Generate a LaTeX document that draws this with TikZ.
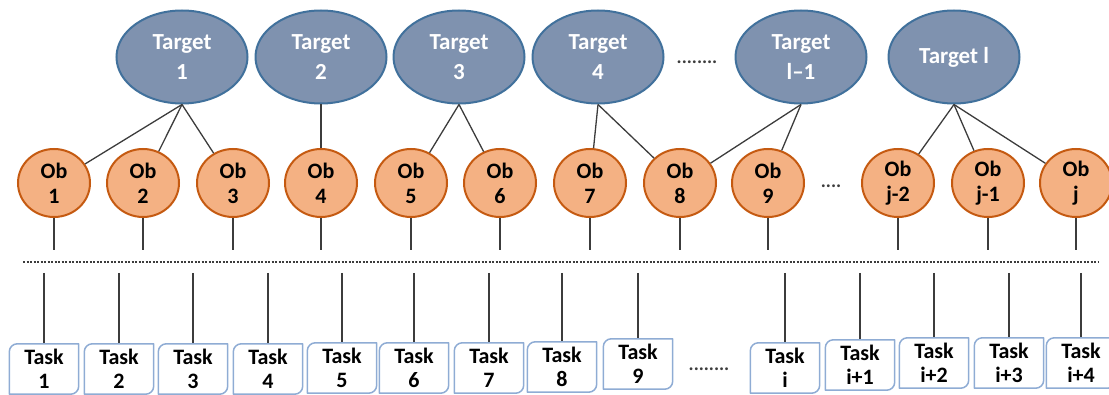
\documentclass[tikz,border=0pt]{standalone}
\usepackage{fontspec}
\setmainfont{Carlito}
\usetikzlibrary{shapes.geometric}

\definecolor{targetfill}{RGB}{127,146,175}
\definecolor{targetline}{RGB}{65,113,156}
\definecolor{obfill}{RGB}{244,177,131}
\definecolor{obline}{RGB}{197,90,17}
\definecolor{taskline}{RGB}{143,172,212}
\definecolor{linkgray}{RGB}{60,60,60}

\begin{document}
\begin{tikzpicture}[
    x=1pt, y=-1pt,
    % styles for the three rows
    target/.style={ellipse, draw=targetline, line width=2pt, fill=targetfill,
        minimum width=131pt, minimum height=93pt, inner sep=0pt, text=white,
        font=\fontsize{23}{30}\selectfont\bfseries, align=center},
    ob/.style={ellipse, draw=obline, line width=2pt, fill=obfill,
        minimum width=72pt, minimum height=68pt, inner sep=0pt,
        font=\fontsize{22}{25}\selectfont\bfseries, align=center},
    taskbox/.style={minimum width=69pt, minimum height=50pt, inner sep=0pt,
        font=\fontsize{22}{24}\selectfont\bfseries, align=center},
    taskframe/.style={draw=taskline, line width=1.5pt, line join=round},
    link/.style={draw=linkgray, line width=1.3pt},
    sepline/.style={draw=linkgray, line width=2.2pt, dash pattern=on 2pt off 1.5pt},
    dots/.style={inner sep=0pt, text=linkgray, font=\fontsize{19}{19}\selectfont\bfseries},
]
    % --- coordinates (pixel units, y downwards) ---
    \def\yTarget{57}    % target row
    \def\yOb{183}       % ob row
    \def\yObEnd{250}    % ob stems end
    \def\ySep{262}      % dotted separator
    \def\yTaskTop{273}  % task stems start
    \def\r{8pt}         % task corner radius

    \useasboundingbox (0,0) rectangle (1109,395);

    % --- 1. Targets ---
    \node[target] (tg1) at (182,\yTarget) {Target\\1};
    \node[target] (tg2) at (321,\yTarget) {Target\\2};
    \node[target] (tg3) at (459,\yTarget) {Target\\3};
    \node[target] (tg4) at (598,\yTarget) {Target\\4};
    \node[dots] (tgdots) at (697,62) {........};
    \node[target] (tgl1) at (801,\yTarget) {Target\\l--1};
    \node[target] (tgl) at (954,\yTarget) {Target l};

    % --- 2. Obs with their stems ---
    \foreach \n/\x/\lab in {1/54/1, 2/143/2, 3/233/3, 4/321/4, 5/411/5, 6/500/6,
        7/590/7, 8/680/8, 9/768/9, 10/898/j-2, 11/988/j-1, 12/1076/j} {
        \node[ob] (ob\n) at (\x,\yOb) {Ob\\\lab};
        \coordinate (obend\n) at (\x,\yObEnd);
        \draw[link] (ob\n) -- (obend\n);
    }
    \node[dots] (obdots) at (831,186) {....};

    % --- 3. Target -> Ob links ---
    \draw[link] (tg1.south) -- (ob1);
    \draw[link] (tg1.south) -- (ob2);
    \draw[link] (tg1.south) -- (ob3);
    \draw[link] (tg2.south) -- (ob4);
    \draw[link] (tg3.south) -- (ob5);
    \draw[link] (tg3.south) -- (ob6);
    \draw[link] (tg4.south) -- (ob7);
    \draw[link] (tg4.south) -- (ob8);
    \draw[link] (tgl1.south) -- (ob8);
    \draw[link] (tgl1.south) -- (ob9);
    \draw[link] (tgl.south) -- (ob10);
    \draw[link] (tgl.south) -- (ob11);
    \draw[link] (tgl.south) -- (ob12);

    % --- 4. dotted separator ---
    \coordinate (sepL) at (23,\ySep);
    \coordinate (sepR) at (1099,\ySep);
    \draw[sepline] (sepL) -- (sepR);

    % --- 5. Tasks (round top-left / bottom-right corners) ---
    \foreach \n/\x/\yy/\lab in {1/44/369/1, 2/119/369/2, 3/193/369/3, 4/268/369/4,
        5/342/368/5, 6/414/368/6, 7/489/368/7, 8/562/367/8, 9/638/364/9,
        10/785/368/i, 11/860/365/i+1, 12/934/363/i+2, 13/1009/363/i+3, 14/1081/363/i+4} {
        \node[taskbox] (tk\n) at (\x,\yy) {Task\\\lab};
        \coordinate (tkstart\n) at (\x,\yTaskTop);
        \draw[link] (tkstart\n) -- (tk\n.north);
        \draw[taskframe] (tk\n.south west) -- ([yshift=-\r]tk\n.north west)
            arc[start angle=180, end angle=90, radius=\r] -- (tk\n.north east)
            -- ([yshift=\r]tk\n.south east)
            arc[start angle=0, end angle=-90, radius=\r] -- cycle;
    }
    \node[dots] (tkdots) at (709,369) {........};

\end{tikzpicture}
\end{document}
